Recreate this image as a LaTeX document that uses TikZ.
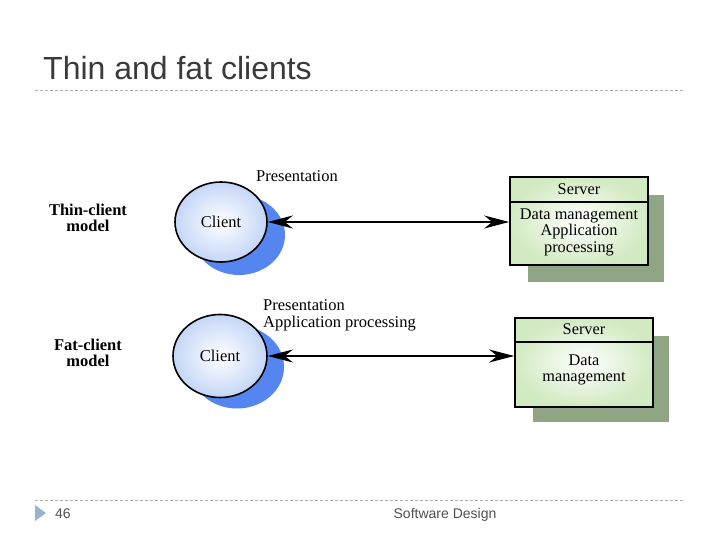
\documentclass[tikz,border=0pt]{standalone}
\usepackage{fontspec}
\setmainfont{Liberation Sans}
\newfontfamily\serifface{Liberation Serif}
\usetikzlibrary{shapes.geometric,arrows.meta}
\definecolor{titlegray}{HTML}{3A3A3A}
\definecolor{footgray}{HTML}{505050}
\definecolor{rulegray}{HTML}{B0B0B0}
\definecolor{tri}{HTML}{97B3D2}
\definecolor{cshadow}{HTML}{5585F0}
\definecolor{cedge}{HTML}{C4D6F7}
\definecolor{sshadow}{HTML}{8FA584}
\definecolor{sedge}{HTML}{D2EAC2}
\tikzset{
  rulestyle/.style={rulegray, line width=0.8pt, dash pattern=on 3pt off 2pt},
  clientnode/.style={ellipse, draw=black, line width=1.6pt, inner sep=0pt,
    shading=radial, inner color=white, outer color=cedge,
    font=\serifface\fontsize{16.5}{18}\selectfont},
  clientshadow/.style={ellipse, fill=cshadow, draw=none, inner sep=0pt},
  serverbox/.style={rectangle, draw=black, line width=1.6pt, inner sep=0pt,
    shading=radial, inner color=white, outer color=sedge},
  servershadow/.style={rectangle, fill=sshadow, draw=none, inner sep=0pt},
  stext/.style={align=center, inner sep=0pt, font=\serifface\fontsize{16.3}{16.5}\selectfont},
  modeltext/.style={align=center, inner sep=0pt, font=\serifface\bfseries\fontsize{16.5}{16.5}\selectfont},
  ltext/.style={anchor=base west, inner sep=0pt, font=\serifface\fontsize{16.5}{17}\selectfont},
  link/.style={line width=1.4pt, {Stealth[length=25pt,width=13pt,inset=8pt]}-{Stealth[length=25pt,width=13pt,inset=8pt]}}
}
\begin{document}
\begin{tikzpicture}[x=1pt,y=-1pt]
\useasboundingbox (0,0) rectangle (720,540);
% header and footer
\node[anchor=base west, inner sep=0pt, text=titlegray, font=\fontsize{32}{36}\selectfont] (title) at (43,80) {Thin and fat clients};
\draw[rulestyle] (35,90) -- (685,90);
\draw[rulestyle] (35,500) -- (685,500);
\fill[tri] (35,505) -- (46,513) -- (35,521) -- cycle;
\node[anchor=base west, inner sep=0pt, text=footgray, font=\fontsize{14}{16}\selectfont] (pnum) at (55,518) {46};
\node[anchor=base, inner sep=0pt, text=footgray, font=\fontsize{14}{16}\selectfont] (foot) at (445,518) {Software Design};

% model labels
\node[modeltext] (thin) at (88,218) {Thin-client\\model};
\node[modeltext] (fat) at (88,353) {Fat-client\\model};

% thin client
\node[clientshadow, minimum width=92pt, minimum height=80pt] (c1s) at (239,235) {};
\node[clientnode, minimum width=92pt, minimum height=80pt] (c1) at (221,222) {Client};
\node[ltext] (p1) at (256,182) {Presentation};

\node[servershadow, minimum width=136pt, minimum height=87pt] (s1s) at (596,238.5) {};
\node[serverbox, minimum width=138pt, minimum height=88pt] (s1) at (579,221) {};
\draw[line width=1.6pt] (s1.west |- 0,202) -- (s1.east |- 0,202);
\node[stext] (s1h) at (579,189.5) {Server};
\node[stext] (s1b) at (579,232) {Data management\\Application\\processing};

\draw[link] (c1.east) -- (c1.east -| s1.west);

% fat client
\node[clientshadow, minimum width=94pt, minimum height=83pt] (c2s) at (237,367) {};
\node[clientnode, minimum width=94pt, minimum height=83pt] (c2) at (220,356) {Client};
\node[ltext] (p2) at (263,310) {Presentation};
\node[ltext] (p3) at (263,327) {Application processing};

\node[servershadow, minimum width=136pt, minimum height=86pt] (s2s) at (601,379) {};
\node[serverbox, minimum width=138pt, minimum height=89pt] (s2) at (584,362.5) {};
\draw[line width=1.6pt] (s2.west |- 0,342) -- (s2.east |- 0,342);
\node[stext] (s2h) at (584,329.5) {Server};
\node[stext] (s2b) at (584,370) {Data\\management};

\draw[link] (c2.east) -- (c2.east -| s2.west);
\end{tikzpicture}
\end{document}
